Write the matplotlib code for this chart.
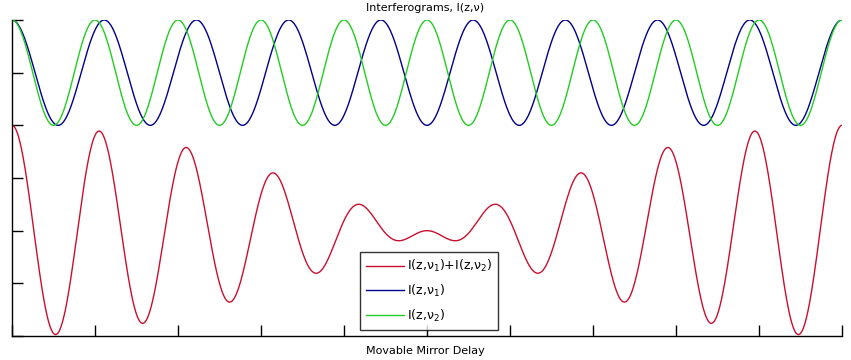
import numpy as np
import matplotlib
matplotlib.use('Agg')
import matplotlib.pyplot as plt

# %% Values
# mirror delay axis (10 tick intervals)
z_range = [0.0, 10.0]
# fringe frequencies (cycles per tick interval) of the two lines
nu = [0.9, 1.0]
# vertical offsets of the curves (axis runs 0..6)
offset_single = 5.0
offset_sum = 2.0

labels = ['I(z,ν$_1$)+I(z,ν$_2$)', 'I(z,ν$_1$)', 'I(z,ν$_2$)']
colors = ['#c8102e', '#00008c', '#22cc22']

# %% Curves
z = np.linspace(z_range[0], z_range[1], 2000)
I1 = np.cos(2 * np.pi * nu[0] * z)
I2 = np.cos(2 * np.pi * nu[1] * z)

fig = plt.figure(figsize=(8.51, 3.6), dpi=100)
ax = fig.add_axes([12 / 851, 24 / 360, 830 / 851, 316 / 360])

ax.plot(z, I1 + I2 + offset_sum, color=colors[0], lw=1, label=labels[0])
ax.plot(z, I1 + offset_single, color=colors[1], lw=1, label=labels[1])
ax.plot(z, I2 + offset_single, color=colors[2], lw=1, label=labels[2])

ax.set_xlim(z_range)
ax.set_ylim(0, 6)
ax.set_xticks(np.arange(0, 11, 1))
ax.set_yticks(np.arange(0, 7, 1))
ax.set_xticklabels([])
ax.set_yticklabels([])
ax.tick_params(direction='in', length=8, width=1, colors='black')
ax.spines['top'].set_visible(False)
ax.spines['right'].set_visible(False)
for s in ('left', 'bottom'):
    ax.spines[s].set_linewidth(1)

fig.text(0.5, 1 - 8 / 360, 'Interferograms, I(z,ν)', ha='center', va='center',
         fontsize=8, family='DejaVu Sans')
fig.text(0.5, 1 - 351 / 360, 'Movable Mirror Delay', ha='center', va='center',
         fontsize=8, family='DejaVu Sans')

leg = ax.legend(loc='lower left', bbox_to_anchor=(0.419, 0.019, 0.167, 0.269),
                mode='expand', fontsize=9, frameon=True, fancybox=False,
                handlelength=3.0, borderpad=0.5, labelspacing=0.7,
                handletextpad=0.3, borderaxespad=0)
leg.get_frame().set_edgecolor('black')
leg.get_frame().set_linewidth(1)

fig.savefig('out.png', dpi=100)
